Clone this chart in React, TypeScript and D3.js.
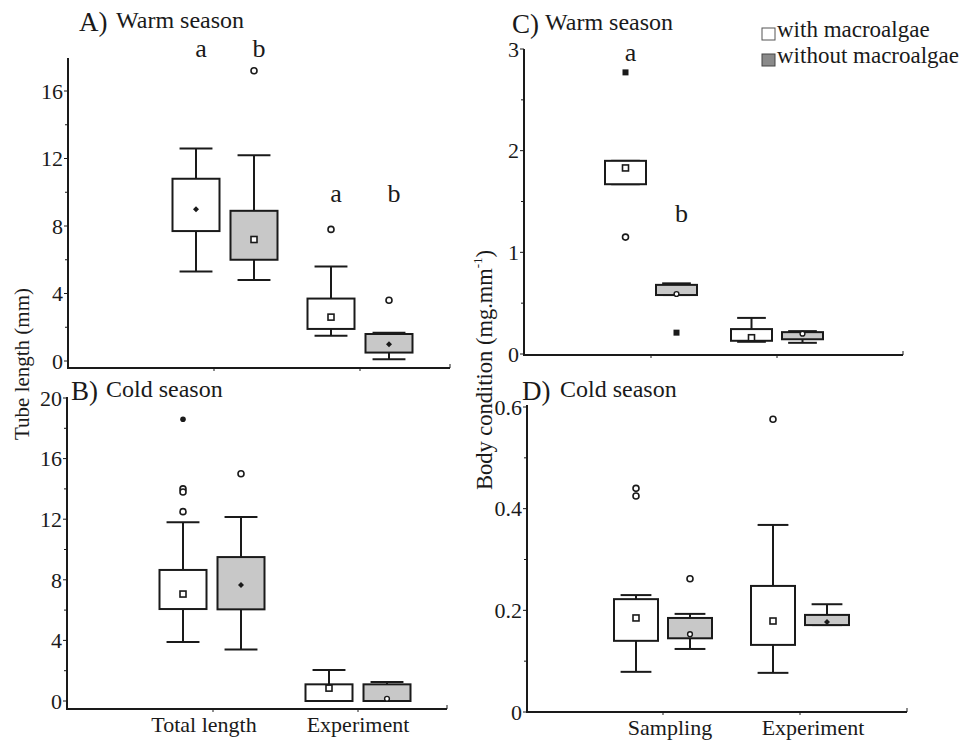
import * as d3 from 'd3';

// categories
const tubeGroups = ['Total length', 'Experiment'];
const conditionGroups = ['Sampling', 'Experiment'];
const legendLabels = ['with macroalgae', 'without macroalgae'];

// A) Warm season, tube length (mm); order: with / without for each group
const tubeWarmQ1 = [7.7, 6.0, 1.9, 0.5];
const tubeWarmQ3 = [10.8, 8.9, 3.7, 1.6];
const tubeWarmLow = [5.3, 4.8, 1.5, 0.1];
const tubeWarmHigh = [12.6, 12.2, 5.6, 1.68];
const tubeWarmMean = [9.0, 7.2, 2.6, 1.0];
const tubeWarmMarker = ['dot', 'square', 'square', 'dot'];
const tubeWarmOutliers = [[], [17.2], [7.8], [3.6]];
const tubeWarmExtremes = [[], [], [], []];
const tubeWarmLetters = ['a', 'b', 'a', 'b'];
const tubeWarmLetterY = [18.0, 18.0, 9.4, 9.4];

// B) Cold season, tube length (mm)
const tubeColdQ1 = [6.07, 6.05, 0, 0];
const tubeColdQ3 = [8.65, 9.5, 1.1, 1.1];
const tubeColdLow = [3.9, 3.4, 0, 0];
const tubeColdHigh = [11.8, 12.15, 2.05, 1.25];
const tubeColdMean = [7.06, 7.66, 0.85, 0.15];
const tubeColdMarker = ['square', 'dot', 'square', 'circle'];
const tubeColdOutliers = [[14.0, 13.8, 12.5], [15.0], [], []];
const tubeColdExtremes = [[18.6], [], [], []];

// C) Warm season, body condition (mg.mm-1)
const condWarmQ1 = [1.67, 0.58, 0.13, 0.145];
const condWarmQ3 = [1.9, 0.68, 0.245, 0.215];
const condWarmLow = [1.67, 0.58, 0.12, 0.11];
const condWarmHigh = [1.9, 0.695, 0.355, 0.225];
const condWarmMean = [1.83, 0.59, 0.16, 0.2];
const condWarmMarker = ['square', 'circle', 'square', 'circle'];
const condWarmOutliers = [[1.15], [], [], []];
const condWarmExtremes = [[2.77], [0.21], [], []];
const condWarmLetters = ['a', 'b', '', ''];
const condWarmLetterY = [2.88, 1.3, 0, 0];

// D) Cold season, body condition (mg.mm-1)
const condColdQ1 = [0.14, 0.145, 0.132, 0.171];
const condColdQ3 = [0.222, 0.185, 0.248, 0.191];
const condColdLow = [0.079, 0.124, 0.077, 0.171];
const condColdHigh = [0.23, 0.193, 0.368, 0.212];
const condColdMean = [0.185, 0.153, 0.179, 0.177];
const condColdMarker = ['square', 'circle', 'square', 'dot'];
const condColdOutliers = [[0.44, 0.425], [0.262], [0.576], []];
const condColdExtremes = [[], [], [], []];

const FONT = '"Liberation Serif", "DejaVu Serif", serif';
const INK = '#1a1a1a';
const GREY = '#c8c8c8';

type PanelCfg = {
  axisX: number;
  axisEnd: number;
  axisY: number;
  axisTop: number;
  domain: [number, number];
  range: [number, number];
  ticks: number[];
  minor: number[];
  fmt: (v: number) => string;
  groups: string[];
  tickRange: [number, number];
  pairShift: number[];
  offset: number;
  boxW: number;
  q1: number[];
  q3: number[];
  low: number[];
  high: number[];
  mean: number[];
  marker: string[];
  outliers: number[][];
  extremes: number[][];
  extremeRound?: boolean;
  letters?: string[];
  letterY?: number[];
  showLabels: boolean;
  labelShift: number[];
  tag: string;
  title: string;
  tagX: number;
  titleX: number;
  titleY: number;
};

function Marker({ kind, x, y }: { kind: string; x: number; y: number }) {
  if (kind === 'square')
    return <rect x={x - 3} y={y - 3} width={6} height={6} fill="#fff" stroke={INK} strokeWidth={1.6} />;
  if (kind === 'circle')
    return <circle cx={x} cy={y} r={2.4} fill="#fff" stroke={INK} strokeWidth={1.4} />;
  return <path d={`M${x},${y - 3}L${x + 3},${y}L${x},${y + 3}L${x - 3},${y}Z`} fill={INK} />;
}

function Panel({ c }: { c: PanelCfg }) {
  const y = d3.scaleLinear().domain(c.domain).range(c.range);
  const x = d3.scalePoint<string>().domain(c.groups).range(c.tickRange);
  const cap = c.boxW * 0.7;
  return (
    <g>
      {/* axes */}
      <line x1={c.axisX} x2={c.axisX} y1={c.axisTop} y2={c.axisY} stroke={INK} strokeWidth={2} />
      <line x1={c.axisX - 1} x2={c.axisEnd} y1={c.axisY} y2={c.axisY} stroke={INK} strokeWidth={2} />
      <line x1={c.axisEnd} x2={c.axisEnd} y1={c.axisY - 4} y2={c.axisY} stroke={INK} strokeWidth={1} />
      {c.ticks.map((t) => (
        <g key={'t' + t}>
          <line x1={c.axisX - 4} x2={c.axisX} y1={y(t)} y2={y(t)} stroke={INK} strokeWidth={1} />
          <text x={c.axisX - 5} y={y(t)} dy="0.35em" textAnchor="end" fontSize={22} fill={INK}>
            {c.fmt(t)}
          </text>
        </g>
      ))}
      {c.minor.map((t) => (
        <line key={'m' + t} x1={c.axisX - 3} x2={c.axisX} y1={y(t)} y2={y(t)} stroke={INK} strokeWidth={1} />
      ))}
      {c.groups.map((g, i) => (
        <g key={g}>
          <line x1={x(g)} x2={x(g)} y1={c.axisY} y2={c.axisY + 3} stroke={INK} strokeWidth={1} />
          {c.showLabels && (
            <text x={(x(g) as number) + c.labelShift[i]} y={c.axisY + 23} textAnchor="middle" fontSize={22} fill={INK}>
              {g}
            </text>
          )}
        </g>
      ))}
      {/* boxes */}
      {c.q1.map((q1, i) => {
        const gi = Math.floor(i / 2);
        const cx = (x(c.groups[gi]) as number) + c.pairShift[gi] + (i % 2 === 0 ? -c.offset : c.offset);
        const top = y(c.q3[i]);
        const bot = y(q1);
        return (
          <g key={'b' + i}>
            <line x1={cx} x2={cx} y1={y(c.high[i])} y2={top} stroke={INK} strokeWidth={2} />
            <line x1={cx} x2={cx} y1={bot} y2={y(c.low[i])} stroke={INK} strokeWidth={2} />
            <line x1={cx - cap / 2} x2={cx + cap / 2} y1={y(c.high[i])} y2={y(c.high[i])} stroke={INK} strokeWidth={2} />
            <line x1={cx - cap / 2} x2={cx + cap / 2} y1={y(c.low[i])} y2={y(c.low[i])} stroke={INK} strokeWidth={2} />
            <rect
              x={cx - c.boxW / 2}
              y={top}
              width={c.boxW}
              height={bot - top}
              fill={i % 2 === 0 ? '#fff' : GREY}
              stroke={INK}
              strokeWidth={2}
            />
            <Marker kind={c.marker[i]} x={cx} y={y(c.mean[i])} />
            {c.outliers[i].map((v, k) => (
              <circle key={'o' + k} cx={cx} cy={y(v)} r={3} fill="#fff" stroke={INK} strokeWidth={1.6} />
            ))}
            {c.extremes[i].map((v, k) =>
              c.extremeRound ? (
                <circle key={'e' + k} cx={cx} cy={y(v)} r={2.8} fill={INK} />
              ) : (
                <rect key={'e' + k} x={cx - 3} y={y(v) - 3} width={6} height={6} fill={INK} />
              )
            )}
            {c.letters && c.letters[i] && (
              <text x={cx + 5} y={y(c.letterY![i])} textAnchor="middle" fontSize={26} fill={INK}>
                {c.letters[i]}
              </text>
            )}
          </g>
        );
      })}
      <text x={c.tagX} y={c.titleY + 3} fontSize={27} fill={INK}>
        {c.tag}
      </text>
      <text x={c.titleX} y={c.titleY} fontSize={24} fill={INK}>
        {c.title}
      </text>
    </g>
  );
}

const panelA: PanelCfg = {
  axisX: 68, axisEnd: 450, axisY: 368, axisTop: 58,
  domain: [0, 16], range: [361, 91],
  ticks: [0, 4, 8, 12, 16], minor: [2, 6, 10, 14], fmt: (v) => String(v),
  groups: tubeGroups, tickRange: [214, 360], pairShift: [11, 0], offset: 29, boxW: 47,
  q1: tubeWarmQ1, q3: tubeWarmQ3, low: tubeWarmLow, high: tubeWarmHigh,
  mean: tubeWarmMean, marker: tubeWarmMarker, outliers: tubeWarmOutliers, extremes: tubeWarmExtremes,
  letters: tubeWarmLetters, letterY: tubeWarmLetterY,
  showLabels: false, labelShift: [0, 0],
  tag: 'A)', title: 'Warm season', tagX: 79, titleX: 116, titleY: 28,
};

const panelB: PanelCfg = {
  axisX: 67, axisEnd: 447, axisY: 709, axisTop: 397,
  domain: [0, 20], range: [701, 398],
  ticks: [0, 4, 8, 12, 16, 20], minor: [2, 6, 10, 14, 18], fmt: (v) => String(v),
  groups: tubeGroups, tickRange: [213, 358], pairShift: [-1, 0], offset: 29, boxW: 47,
  q1: tubeColdQ1, q3: tubeColdQ3, low: tubeColdLow, high: tubeColdHigh,
  mean: tubeColdMean, marker: tubeColdMarker, outliers: tubeColdOutliers, extremes: tubeColdExtremes,
  extremeRound: true,
  showLabels: true, labelShift: [-9, 0],
  tag: 'B)', title: 'Cold season', tagX: 71, titleX: 106, titleY: 397,
};

const panelC: PanelCfg = {
  axisX: 524, axisEnd: 903, axisY: 355, axisTop: 49,
  domain: [0, 3], range: [354, 49],
  ticks: [0, 1, 2, 3], minor: [0.5, 1.5, 2.5], fmt: (v) => String(v),
  groups: conditionGroups, tickRange: [651, 777], pairShift: [0, 0], offset: 25.5, boxW: 41,
  q1: condWarmQ1, q3: condWarmQ3, low: condWarmLow, high: condWarmHigh,
  mean: condWarmMean, marker: condWarmMarker, outliers: condWarmOutliers, extremes: condWarmExtremes,
  letters: condWarmLetters, letterY: condWarmLetterY,
  showLabels: false, labelShift: [0, 0],
  tag: 'C)', title: 'Warm season', tagX: 512, titleX: 545, titleY: 30,
};

const panelD: PanelCfg = {
  axisX: 527, axisEnd: 907, axisY: 712, axisTop: 405,
  domain: [0, 0.6], range: [712, 407],
  ticks: [0, 0.2, 0.4, 0.6], minor: [0.1, 0.3, 0.5], fmt: (v) => (v === 0 ? '0' : d3.format('.1f')(v)),
  groups: conditionGroups, tickRange: [663, 800], pairShift: [0, 0], offset: 27, boxW: 44,
  q1: condColdQ1, q3: condColdQ3, low: condColdLow, high: condColdHigh,
  mean: condColdMean, marker: condColdMarker, outliers: condColdOutliers, extremes: condColdExtremes,
  showLabels: true, labelShift: [7, 13],
  tag: 'D)', title: 'Cold season', tagX: 522, titleX: 560, titleY: 397,
};

export default function App() {
  return (
    <svg width={962} height={741} style={{ position: 'absolute', left: 0, top: 0, background: '#fff' }} fontFamily={FONT}>
      <rect width={962} height={741} fill="#fff" />
      <Panel c={panelA} />
      <Panel c={panelB} />
      <Panel c={panelC} />
      <Panel c={panelD} />
      <text transform="translate(29,364) rotate(-90)" textAnchor="middle" fontSize={21} fill={INK}>
        Tube length (mm)
      </text>
      <text transform="translate(492,370) rotate(-90)" textAnchor="middle" fontSize={22.5} fill={INK}>
        Body condition (mg.mm
        <tspan fontSize={13} dy={-10}>-1</tspan>
        <tspan dy={10}>)</tspan>
      </text>
      {/* legend */}
      {legendLabels.map((l, i) => (
        <g key={l}>
          <rect
            x={762}
            y={28 + i * 26}
            width={13}
            height={12}
            fill={i === 0 ? '#fff' : '#8a8a8a'}
            stroke={i === 0 ? '#555' : '#444'}
            strokeWidth={1}
          />
          <text x={777} y={37 + i * 26} fontSize={23} fill={INK}>
            {l}
          </text>
        </g>
      ))}
    </svg>
  );
}
